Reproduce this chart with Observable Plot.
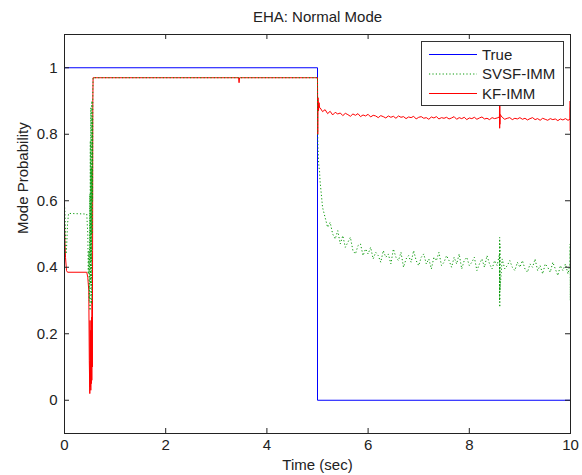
<!DOCTYPE html>
<html><head><meta charset="utf-8">
<script src="https://cdn.jsdelivr.net/npm/d3@7"></script>
<script src="https://cdn.jsdelivr.net/npm/@observablehq/plot@0.6"></script>
<style>
body{margin:0;background:#fff;}
#chart{width:582px;height:475px;}
</style>
</head><body><div id="chart"></div>
<script>
const chartTitle = "EHA: Normal Mode";
const xLabel = "Time (sec)";
const yLabel = "Mode Probability";
const xTicks = [0, 2, 4, 6, 8, 10];
const yTicks = [0, 0.2, 0.4, 0.6, 0.8, 1];
const yTickLabels = ["0", "0.2", "0.4", "0.6", "0.8", "1"];
const seriesNames = ["True", "SVSF-IMM", "KF-IMM"];
const seriesColors = ["#0000ff", "#0a9a0a", "#ff0000"];

// True mode
const trueTime = [0, 5, 5, 10];
const trueProb = [1, 1, 0, 0];

// KF-IMM
const kfHeadTime = [0, 0.01, 0.02, 0.04, 0.06, 0.44, 0.46, 0.48, 0.49, 0.50, 0.505, 0.51, 0.515, 0.52, 0.525, 0.53, 0.535, 0.54, 0.545, 0.55, 0.555, 0.56, 0.565, 3.44, 3.45, 3.46, 5.0, 5.005, 5.01, 5.02, 5.03, 5.04];
const kfHeadProb = [0.53, 0.47, 0.43, 0.39, 0.385, 0.385, 0.37, 0.33, 0.12, 0.02, 0.24, 0.04, 0.21, 0.03, 0.19, 0.05, 0.25, 0.06, 0.30, 0.10, 0.45, 0.90, 0.97, 0.97, 0.955, 0.97, 0.97, 0.80, 0.91, 0.87, 0.895, 0.88];

const tailTime = [
  5.05,5.10,5.15,5.20,5.25,5.30,5.35,5.40,5.45,5.50,
  5.55,5.60,5.65,5.70,5.75,5.80,5.85,5.90,5.95,6.00,
  6.05,6.10,6.15,6.20,6.25,6.30,6.35,6.40,6.45,6.50,
  6.55,6.60,6.65,6.70,6.75,6.80,6.85,6.90,6.95,7.00,
  7.05,7.10,7.15,7.20,7.25,7.30,7.35,7.40,7.45,7.50,
  7.55,7.60,7.65,7.70,7.75,7.80,7.85,7.90,7.95,8.00,
  8.05,8.10,8.15,8.20,8.25,8.30,8.35,8.40,8.45,8.50,
  8.55,8.60,8.65,8.70,8.75,8.80,8.85,8.90,8.95,9.00,
  9.05,9.10,9.15,9.20,9.25,9.30,9.35,9.40,9.45,9.50,
  9.55,9.60,9.65,9.70,9.75,9.80,9.85,9.90,9.95,10.00
];
const kfTailProb = [
  0.880,0.868,0.874,0.862,0.869,0.858,0.866,0.861,0.864,0.856,
  0.863,0.859,0.854,0.861,0.857,0.862,0.853,0.858,0.855,0.860,
  0.852,0.857,0.855,0.850,0.856,0.853,0.849,0.855,0.851,0.854,
  0.848,0.855,0.851,0.853,0.847,0.852,0.850,0.854,0.846,0.851,
  0.853,0.848,0.850,0.845,0.852,0.849,0.853,0.846,0.850,0.848,
  0.851,0.846,0.849,0.853,0.845,0.850,0.847,0.851,0.844,0.849,
  0.847,0.851,0.845,0.849,0.852,0.846,0.848,0.844,0.850,0.847,
  0.849,0.846,0.851,0.845,0.848,0.850,0.844,0.848,0.846,0.850,
  0.845,0.848,0.843,0.847,0.850,0.844,0.847,0.842,0.848,0.845,
  0.842,0.847,0.844,0.846,0.841,0.846,0.843,0.847,0.842,0.845
];
const kfSpikeTime = [8.596, 8.598, 8.600, 8.602, 8.604, 8.606, 9.990, 9.993, 9.996, 9.998];
const kfSpikeProb = [0.852, 0.898, 0.818, 0.885, 0.830, 0.860, 0.845, 0.900, 0.810, 0.880];

// SVSF-IMM
const svsfHeadTime = [0, 0.01, 0.02, 0.03, 0.045, 0.06, 0.08, 0.44, 0.46, 0.47, 0.48, 0.49, 0.50, 0.505, 0.51, 0.515, 0.52, 0.525, 0.53, 0.535, 0.54, 0.545, 0.55, 0.555, 0.56, 0.565, 5.0, 5.003, 5.006, 5.01, 5.015, 5.02, 5.03, 5.04];
const svsfHeadProb = [0.59, 0.56, 0.50, 0.44, 0.47, 0.53, 0.562, 0.56, 0.50, 0.38, 0.45, 0.30, 0.62, 0.27, 0.78, 0.35, 0.88, 0.42, 0.70, 0.29, 0.90, 0.50, 0.85, 0.60, 0.93, 0.97, 0.97, 0.82, 0.78, 0.76, 0.74, 0.72, 0.70, 0.69];
const svsfTailProb = [
  0.66,0.58,0.55,0.52,0.535,0.50,0.485,0.51,0.47,0.495,
  0.46,0.475,0.49,0.45,0.44,0.465,0.47,0.435,0.455,0.44,
  0.46,0.425,0.445,0.435,0.415,0.45,0.43,0.44,0.41,0.455,
  0.43,0.42,0.445,0.40,0.425,0.435,0.415,0.45,0.42,0.405,
  0.43,0.44,0.41,0.425,0.395,0.43,0.42,0.445,0.405,0.415,
  0.435,0.42,0.40,0.43,0.41,0.44,0.395,0.42,0.43,0.405,
  0.415,0.43,0.39,0.41,0.425,0.40,0.435,0.41,0.395,0.42,
  0.405,0.41,0.425,0.395,0.405,0.42,0.40,0.39,0.415,0.40,
  0.42,0.395,0.385,0.41,0.40,0.425,0.39,0.405,0.38,0.41,
  0.40,0.385,0.415,0.395,0.375,0.405,0.39,0.41,0.38,0.40
];
const svsfSpikeTime = [8.596, 8.598, 8.600, 8.602, 8.604, 8.606, 9.990, 9.993, 9.996, 9.998];
const svsfSpikeProb = [0.44, 0.30, 0.49, 0.28, 0.47, 0.33, 0.41, 0.47, 0.30, 0.45];

// ---- build tables ----
function zip(ts, vs) { return ts.map((t, i) => ({t, v: vs[i]})); }
function series(parts) {
  return parts.flat().map((d, i) => ({...d, i})).sort((a, b) => a.t - b.t || a.i - b.i);
}
const trueData = zip(trueTime, trueProb);
const kfData = series([zip(kfHeadTime, kfHeadProb), zip(tailTime, kfTailProb), zip(kfSpikeTime, kfSpikeProb)]);
const svsfData = series([zip(svsfHeadTime, svsfHeadProb), zip(tailTime, svsfTailProb), zip(svsfSpikeTime, svsfSpikeProb)]);

const W = 582, H = 475, mL = 64, mR = 12, mT = 34, mB = 42;
const frameW = W - mL - mR, frameH = H - mT - mB, tickLen = 5;
const axisColor = "#222";
const font = "'Liberation Sans', Arial, Helvetica, sans-serif";
const fs = 15;
const dotted = "1.2,2.2";

const plot = Plot.plot({
  width: W, height: H,
  marginLeft: mL, marginRight: mR, marginTop: mT, marginBottom: mB,
  style: {fontFamily: font, fontSize: fs + "px", color: "#222", background: "#fff"},
  x: {domain: [0, 10]},
  y: {domain: [-0.1, 1.1]},
  marks: [
    Plot.line(trueData, {x: "t", y: "v", stroke: seriesColors[0], strokeWidth: 1, clip: true}),
    Plot.line(kfData, {x: "t", y: "v", stroke: seriesColors[2], strokeWidth: 1, clip: true}),
    Plot.line(svsfData, {x: "t", y: "v", stroke: seriesColors[1], strokeWidth: 1, strokeDasharray: dotted, strokeLinecap: "butt", clip: true}),
    Plot.frame({stroke: axisColor}),
    Plot.ruleX(xTicks, {x: d => d, insetTop: frameH - tickLen, stroke: axisColor}),
    Plot.ruleX(xTicks, {x: d => d, insetBottom: frameH - tickLen, stroke: axisColor}),
    Plot.ruleY(yTicks, {y: d => d, insetRight: frameW - tickLen, stroke: axisColor}),
    Plot.ruleY(yTicks, {y: d => d, insetLeft: frameW - tickLen, stroke: axisColor}),
    Plot.axisX(xTicks, {tickSize: 0, tickPadding: 6, fontSize: fs, label: null}),
    Plot.axisY(yTicks, {tickSize: 0, tickPadding: 7, fontSize: fs, label: null, tickFormat: d => yTickLabels[yTicks.indexOf(d)]}),
    Plot.text([chartTitle], {text: d => d, frameAnchor: "top", dy: -17, fontSize: fs, lineAnchor: "middle"}),
    Plot.text([xLabel], {text: d => d, frameAnchor: "bottom", dy: 32, fontSize: fs, lineAnchor: "middle"}),
    Plot.text([yLabel], {text: d => d, frameAnchor: "left", dx: -41, rotate: -90, fontSize: fs, lineAnchor: "middle"})
  ]
});

// legend box (top-right, inside the axes)
const svg = d3.select(plot);
const lg = svg.append("g").attr("font-family", font).attr("font-size", fs).attr("text-anchor", "start");
lg.append("rect").attr("x", 421.5).attr("y", 41.5).attr("width", 142).attr("height", 64)
  .attr("fill", "#fff").attr("stroke", "#333");
seriesNames.forEach((name, i) => {
  const y = 54.5 + i * 19.5;
  const ln = lg.append("line").attr("x1", 429).attr("x2", 477).attr("y1", y).attr("y2", y)
    .attr("stroke", seriesColors[i]).attr("stroke-width", 1);
  if (name === "SVSF-IMM") ln.attr("stroke-dasharray", dotted);
  lg.append("text").attr("x", 482).attr("y", y).attr("dy", "0.35em").attr("fill", "#222")
    .attr("text-anchor", "start").text(name);
});

document.getElementById("chart").appendChild(plot);
</script>
</body></html>
